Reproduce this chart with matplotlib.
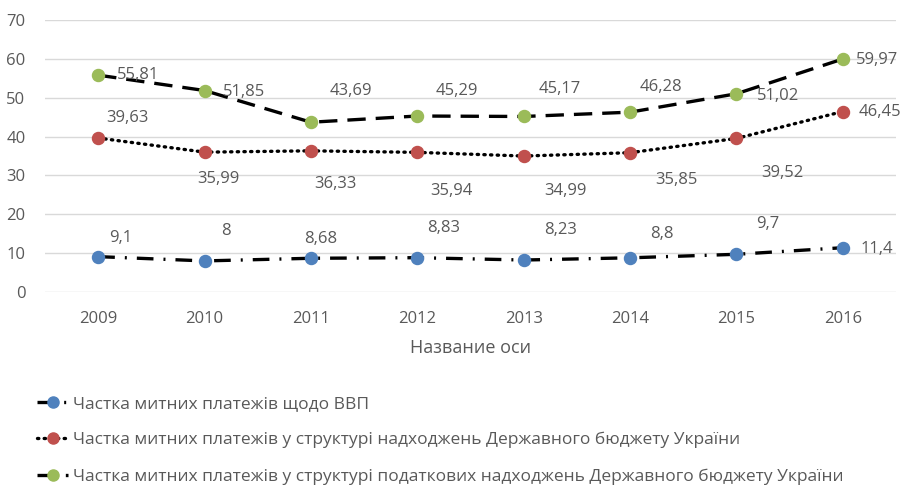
import matplotlib
matplotlib.use("Agg")
import matplotlib.pyplot as plt
from matplotlib.lines import Line2D

plt.rcParams['font.family'] = ['Open Sans', 'DejaVu Sans']

years = ["2009", "2010", "2011", "2012", "2013", "2014", "2015", "2016"]
gdp_share = [9.1, 8, 8.68, 8.83, 8.23, 8.8, 9.7, 11.4]
budget_share = [39.63, 35.99, 36.33, 35.94, 34.99, 35.85, 39.52, 46.45]
tax_share = [55.81, 51.85, 43.69, 45.29, 45.17, 46.28, 51.02, 59.97]

gdp_labels = ["9,1", "8", "8,68", "8,83", "8,23", "8,8", "9,7", "11,4"]
budget_labels = ["39,63", "35,99", "36,33", "35,94", "34,99", "35,85", "39,52", "46,45"]
tax_labels = ["55,81", "51,85", "43,69", "45,29", "45,17", "46,28", "51,02", "59,97"]

names = [
    "Частка митних платежів щодо ВВП",
    "Частка митних платежів у структурі надходжень Державного бюджету України",
    "Частка митних платежів у структурі податкових надходжень Державного бюджету України",
]

# label offsets in pixels (dx, dy)
gdp_off = [(23, 19), (21, 30), (10, 19), (26, 30), (37, 30), (32, 24), (31, 30), (34, -1)]
budget_off = [(29, 20), (14, -27), (25, -33), (34, -39), (42, -35), (46, -27), (46, -35), (37, 0)]
tax_off = [(40, 0), (40, -1), (40, 31), (40, 25), (36, 27), (31, 25), (42, -2), (34, -1)]

gray = "#595959"
blue, red, green = "#4F81BD", "#C0504D", "#9BBB59"

gdp_style = dict(linestyle=(0, (5, 3, 0.6, 3)))
budget_style = dict(linestyle=(0, (0.4, 1.6)), dash_capstyle="round")
tax_style = dict(linestyle=(0, (5.5, 3)))

fig = plt.figure(figsize=(9.12, 4.86), dpi=100)
ax = fig.add_axes([45 / 912, 1 - 292 / 486, 851 / 912, 272 / 486])

x = list(range(len(years)))
lw = 2.4
ax.plot(x, gdp_share, color="black", lw=lw, zorder=2, **gdp_style)
ax.plot(x, budget_share, color="black", lw=lw, zorder=2, **budget_style)
ax.plot(x, tax_share, color="black", lw=lw, zorder=2, **tax_style)
ax.scatter(x, gdp_share, s=75, color=blue, zorder=3)
ax.scatter(x, budget_share, s=75, color=red, zorder=3)
ax.scatter(x, tax_share, s=75, color=green, zorder=3)

for vals, labs, offs in [(gdp_share, gdp_labels, gdp_off),
                         (budget_share, budget_labels, budget_off),
                         (tax_share, tax_labels, tax_off)]:
    for i, (v, t, o) in enumerate(zip(vals, labs, offs)):
        ax.annotate(t, (i, v), xytext=o, textcoords="offset pixels",
                    ha="center", va="center", fontsize=12, color=gray, zorder=4)

ax.set_xlim(-0.5, len(years) - 0.5)
ax.set_ylim(0, 70)
ax.set_yticks(range(0, 71, 10))
ax.set_xticks(x)
ax.set_xticklabels(years)
ax.grid(axis="y", color="#d9d9d9", lw=1)
ax.set_axisbelow(True)
for s in ax.spines.values():
    s.set_visible(False)
ax.tick_params(length=0, labelsize=12, labelcolor=gray)
ax.tick_params(axis="y", pad=14)
ax.tick_params(axis="x", pad=14)
ax.set_xlabel("Название оси", fontsize=13, color=gray, labelpad=8)

handles = [
    Line2D([], [], color="black", lw=lw, marker="o", ms=8,
           markerfacecolor=blue, markeredgecolor=blue, **gdp_style),
    Line2D([], [], color="black", lw=lw, marker="o", ms=8,
           markerfacecolor=red, markeredgecolor=red, **budget_style),
    Line2D([], [], color="black", lw=lw, marker="o", ms=8,
           markerfacecolor=green, markeredgecolor=green, **tax_style),
]
leg = fig.legend(handles, names, loc="upper left", bbox_to_anchor=(30 / 912, 1 - 389 / 486),
                 frameon=False, fontsize=12.5, labelcolor=gray, handlelength=1.8,
                 handletextpad=0.3, labelspacing=1.15, borderaxespad=0)

fig.savefig("out.png", dpi=100)
